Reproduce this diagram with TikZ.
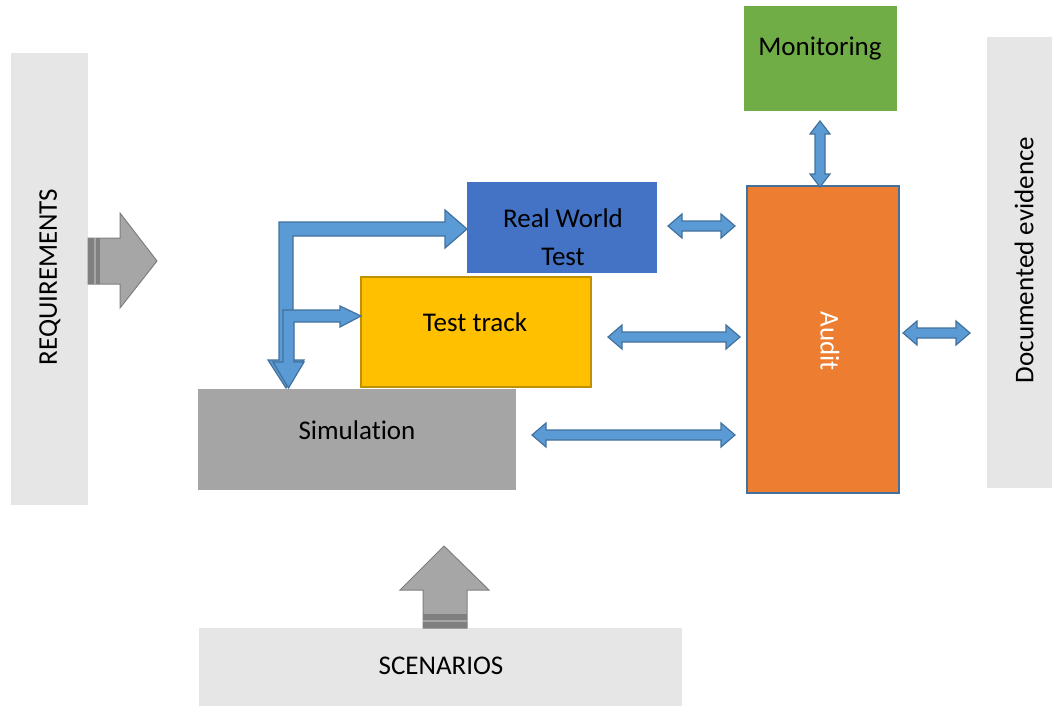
\documentclass[tikz,border=0pt]{standalone}
\usepackage{fontspec}
\setmainfont[Ligatures={NoCommon}]{Carlito}
\definecolor{barGray}{HTML}{E7E6E6}
\definecolor{simGray}{HTML}{A5A5A5}
\definecolor{arrGray}{HTML}{A6A6A6}
\definecolor{arrGrayDark}{HTML}{7F7F7F}
\definecolor{rwBlue}{HTML}{4472C4}
\definecolor{ttYellow}{HTML}{FFC000}
\definecolor{ttBorder}{HTML}{BF9000}
\definecolor{monGreen}{HTML}{70AD47}
\definecolor{audOrange}{HTML}{ED7D31}
\definecolor{audBorder}{HTML}{41719C}
\definecolor{arrBlue}{HTML}{5B9BD5}
\definecolor{arrBlueDark}{HTML}{41719C}
\tikzset{
  box/.style={draw=none, inner sep=0pt, anchor=north west, font=\fontsize{27}{38}\selectfont},
  bar/.style={box, fill=barGray},
  lbl/.style={inner sep=0pt, font=\fontsize{27}{38}\selectfont},
  grayarrow/.style={fill=arrGray, draw=arrGrayDark, line width=1pt, line join=miter},
  bluearrow/.style={fill=arrBlue, draw=arrBlueDark, line width=1.2pt, line join=miter},
}
\newcommand\hdblarrow[3]{%
  \filldraw[bluearrow] (#1,#3) -- ({#1+14},{#3-12}) -- ({#1+14},{#3-5}) -- ({#2-14},{#3-5}) -- ({#2-14},{#3-12}) -- (#2,#3) -- ({#2-14},{#3+12}) -- ({#2-14},{#3+5}) -- ({#1+14},{#3+5}) -- ({#1+14},{#3+12}) -- cycle;}
\begin{document}
\begin{tikzpicture}[x=1pt,y=-1pt]
\useasboundingbox (0,0) rectangle (1052,706);
% side bars
\node[bar, minimum width=77pt, minimum height=452pt] (req) at (11,53) {};
\node[lbl, rotate=90] (reqt) at (50,277) {REQUIREMENTS};
\node[bar, minimum width=65pt, minimum height=451pt] (doc) at (987,37) {};
\node[lbl, rotate=90] (doct) at (1024,260) {Documented evidence};
\node[bar, minimum width=483pt, minimum height=78pt] (scen) at (199,628) {};
\node[lbl] (scent) at (441,666) {SCENARIOS};
% boxes
\node[box, fill=monGreen, minimum width=153pt, minimum height=105pt] (mon) at (744,6) {};
\node[lbl] (mont) at (820,49) {Monitoring};
\node[box, fill=audOrange, draw=audBorder, line width=2pt, minimum width=152pt, minimum height=307pt] (aud) at (746,185) {};
\node[lbl, rotate=-90, text=white] (audt) at (830,341) {Audit};
\node[box, fill=rwBlue, minimum width=190pt, minimum height=91pt] (rw) at (467,182) {};
\begin{scope}
  \clip (467,182) rectangle (657,266);
  \node[lbl, align=center, anchor=north] (rwt) at (563,209) {Real World\\Test};
\end{scope}
\node[box, fill=ttYellow, draw=ttBorder, line width=2pt, minimum width=230pt, minimum height=110pt] (tt) at (360,276) {};
\node[lbl] (ttt) at (475,322) {Test track};
\node[box, fill=simGray, minimum width=318pt, minimum height=101pt] (sim) at (198,389) {};
\node[lbl] (simt) at (357,430) {Simulation};
% requirements block arrow
\filldraw[grayarrow] (88,238) -- (120,238) -- (120,213) -- (157,261) -- (120,308) -- (120,284) -- (88,284) -- cycle;
\fill[arrGrayDark] (88,238) rectangle (100,284);
\fill[arrGray] (94,238) rectangle (96,284);
% scenarios block arrow
\filldraw[grayarrow] (423,628) -- (423,590) -- (400,590) -- (444,546) -- (489,590) -- (467,590) -- (467,628) -- cycle;
\fill[arrGrayDark] (423,614) rectangle (467,628);
\fill[arrGray] (423,620) rectangle (467,622);
% bent blue arrows
\filldraw[bluearrow] (279,222) -- (445,222) -- (445,210) -- (467,229) -- (445,248) -- (445,236) -- (293,236) -- (293,360) -- (304,360) -- (286,388) -- (268,360) -- (279,360) -- cycle;
\filldraw[bluearrow] (283,310) -- (340,310) -- (340,306) -- (361,316) -- (340,327) -- (340,322) -- (294,322) -- (294,362) -- (304,362) -- (288.5,388) -- (273,362) -- (283,362) -- cycle;
% double arrows
\hdblarrow{668}{735}{226}
\hdblarrow{608}{740}{337}
\hdblarrow{532}{735}{435}
\hdblarrow{903}{970}{333}
\filldraw[bluearrow] (820,121) -- (830,134) -- (825,134) -- (825,174) -- (830,174) -- (820,187) -- (810,174) -- (815,174) -- (815,134) -- (810,134) -- cycle;
\end{tikzpicture}
\end{document}
